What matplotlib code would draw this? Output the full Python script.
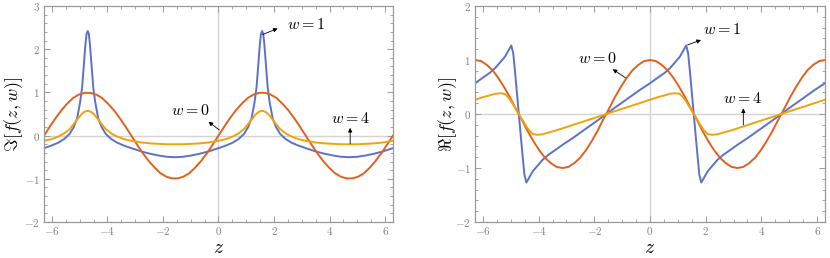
import matplotlib
matplotlib.use("Agg")
import matplotlib.pyplot as plt
from matplotlib.ticker import MultipleLocator, FuncFormatter

plt.rcParams['mathtext.fontset'] = 'cm'
plt.rcParams['font.family'] = 'DejaVu Serif'

# Значения z для кривых w=1 и w=4 (гуще около пиков)
z = [-6.28, -6.01, -5.76, -5.56, -5.36, -5.21, -5.09, -4.98, -4.91, -4.85, -4.79, -4.75,
     -4.71, -4.67, -4.63, -4.57, -4.51, -4.44, -4.33, -4.21, -4.06, -3.86, -3.66, -3.41,
     -3.14, -2.76, -2.46, -2.16, -1.86,
     -1.57, -1.28, -0.98, -0.68, -0.38, 0.0, 0.27, 0.52, 0.72, 0.92, 1.07, 1.19, 1.30,
     1.37, 1.43, 1.49, 1.53, 1.57, 1.61, 1.65, 1.71, 1.77, 1.84, 1.95, 2.07, 2.22, 2.42,
     2.62, 2.87, 3.14, 3.52, 3.82, 4.12, 4.42,
     4.71, 5.00, 5.30, 5.60, 5.90, 6.28]

# Значения z для кривой w=0 (равномерно)
z0 = [-6.28, -6.07, -5.86, -5.65, -5.45, -5.24, -5.03, -4.82, -4.61, -4.40, -4.19, -3.98,
      -3.77, -3.56, -3.35, -3.14, -2.93, -2.72, -2.51, -2.30, -2.09, -1.88, -1.68, -1.47,
      -1.26, -1.05, -0.84, -0.63, -0.42, -0.21, 0.0, 0.21, 0.42, 0.63, 0.84, 1.05, 1.26,
      1.47, 1.68, 1.88, 2.09, 2.30, 2.51, 2.72, 2.93, 3.14, 3.35, 3.56, 3.77, 3.98, 4.19,
      4.40, 4.61, 4.82, 5.03, 5.24, 5.45, 5.65, 5.86, 6.07, 6.28]

# Мнимая часть
im_w0 = [0.0, 0.21, 0.41, 0.59, 0.74, 0.87, 0.95, 0.99, 0.99, 0.95, 0.87, 0.74, 0.59, 0.41,
         0.21, 0.0, -0.21, -0.41, -0.59, -0.74, -0.87, -0.95, -0.99, -0.99, -0.95, -0.87,
         -0.74, -0.59, -0.41, -0.21, 0.0, 0.21, 0.41, 0.59, 0.74, 0.87, 0.95, 0.99, 0.99,
         0.95, 0.87, 0.74, 0.59, 0.41, 0.21, 0.0, -0.21, -0.41, -0.59, -0.74, -0.87, -0.95,
         -0.99, -0.99, -0.95, -0.87, -0.74, -0.59, -0.41, -0.21, 0.0]
im_w1 = [-0.29, -0.23, -0.16, -0.08, 0.04, 0.20, 0.40, 0.78, 1.12, 1.62, 2.12, 2.36, 2.42,
         2.36, 2.12, 1.62, 1.12, 0.78, 0.40, 0.20, 0.04, -0.08, -0.16, -0.23, -0.29, -0.37,
         -0.42, -0.46, -0.49,
         -0.50, -0.49, -0.46, -0.42, -0.37, -0.29, -0.23, -0.16, -0.08, 0.04, 0.20, 0.40, 0.78,
         1.12, 1.62, 2.12, 2.36, 2.42, 2.36, 2.12, 1.62, 1.12, 0.78, 0.40, 0.20, 0.04, -0.08,
         -0.16, -0.23, -0.29, -0.37, -0.42, -0.46, -0.49,
         -0.50, -0.49, -0.46, -0.42, -0.37, -0.29]
im_w4 = [-0.12, -0.08, -0.02, 0.05, 0.15, 0.27, 0.37, 0.46, 0.51, 0.54, 0.56, 0.57, 0.57,
         0.57, 0.56, 0.54, 0.51, 0.46, 0.37, 0.27, 0.15, 0.05, -0.02, -0.08, -0.12, -0.16,
         -0.18, -0.19, -0.20,
         -0.20, -0.20, -0.19, -0.18, -0.16, -0.12, -0.08, -0.02, 0.05, 0.15, 0.27, 0.37, 0.46,
         0.51, 0.54, 0.56, 0.57, 0.57, 0.57, 0.56, 0.54, 0.51, 0.46, 0.37, 0.27, 0.15, 0.05,
         -0.02, -0.08, -0.12, -0.16, -0.18, -0.19, -0.20,
         -0.20, -0.20, -0.19, -0.18, -0.16, -0.12]

# Действительная часть
re_w0 = [1.0, 0.98, 0.91, 0.81, 0.67, 0.5, 0.31, 0.10, -0.10, -0.31, -0.5, -0.67, -0.81,
         -0.91, -0.98, -1.0, -0.98, -0.91, -0.81, -0.67, -0.5, -0.31, -0.10, 0.10, 0.31, 0.5,
         0.67, 0.81, 0.91, 0.98, 1.0, 0.98, 0.91, 0.81, 0.67, 0.5, 0.31, 0.10, -0.10, -0.31,
         -0.5, -0.67, -0.81, -0.91, -0.98, -1.0, -0.98, -0.91, -0.81, -0.67, -0.5, -0.31,
         -0.10, 0.10, 0.31, 0.5, 0.67, 0.81, 0.91, 0.98, 1.0]
re_w1 = [0.57, 0.67, 0.76, 0.85, 0.97, 1.06, 1.17, 1.27, 1.12, 0.80, 0.46, 0.23, 0.0, -0.23,
         -0.46, -0.80, -1.12, -1.27, -1.17, -1.06, -0.97, -0.85, -0.76, -0.67, -0.57, -0.44,
         -0.33, -0.22, -0.11,
         0.0, 0.11, 0.22, 0.33, 0.44, 0.57, 0.67, 0.76, 0.85, 0.97, 1.06, 1.17, 1.27, 1.12,
         0.80, 0.46, 0.23, 0.0, -0.23, -0.46, -0.80, -1.12, -1.27, -1.17, -1.06, -0.97, -0.85,
         -0.76, -0.67, -0.57, -0.44, -0.33, -0.22, -0.11,
         0.0, 0.11, 0.22, 0.33, 0.44, 0.57]
re_w4 = [0.265, 0.31, 0.345, 0.375, 0.385, 0.37, 0.31, 0.23, 0.17, 0.12, 0.07, 0.035, 0.0,
         -0.035, -0.07, -0.12, -0.17, -0.23, -0.31, -0.37, -0.385, -0.375, -0.345, -0.31,
         -0.265, -0.20, -0.15, -0.10, -0.05,
         0.0, 0.05, 0.10, 0.15, 0.20, 0.265, 0.31, 0.345, 0.375, 0.385, 0.37, 0.31, 0.23, 0.17,
         0.12, 0.07, 0.035, 0.0, -0.035, -0.07, -0.12, -0.17, -0.23, -0.31, -0.37, -0.385,
         -0.375, -0.345, -0.31, -0.265, -0.20, -0.15, -0.10, -0.05,
         0.0, 0.05, 0.10, 0.15, 0.20, 0.265]

c_w0 = '#E2601F'
c_w1 = '#5D72C6'
c_w4 = '#F0A30A'

fig = plt.figure(figsize=(8.3, 2.58), dpi=100)
ax1 = fig.add_axes([0.053, 0.1395, 0.4205, 0.8372])
ax2 = fig.add_axes([0.5723, 0.1395, 0.4217, 0.8372])

fmt = FuncFormatter(lambda v, p: r'$%d$' % round(v))


def setup(ax, ylim, ylabel, ylab_x):
    ax.axhline(0, color='#d4d4d4', lw=1.0, zorder=0)
    ax.axvline(0, color='#d4d4d4', lw=1.0, zorder=0)
    ax.set_xlim(-6.2832, 6.2832)
    ax.set_ylim(*ylim)
    ax.xaxis.set_major_locator(MultipleLocator(2))
    ax.xaxis.set_minor_locator(MultipleLocator(0.5))
    ax.yaxis.set_major_locator(MultipleLocator(1))
    ax.yaxis.set_minor_locator(MultipleLocator(0.2))
    ax.xaxis.set_major_formatter(fmt)
    ax.yaxis.set_major_formatter(fmt)
    ax.tick_params(which='both', direction='in', top=True, right=True,
                   color='#999999', labelcolor='#808080', labelsize=8, pad=3)
    ax.tick_params(axis='x', which='both', pad=2)
    ax.tick_params(which='major', length=4, width=0.7)
    ax.tick_params(which='minor', length=2, width=0.6)
    for s in ax.spines.values():
        s.set_color('#999999')
        s.set_linewidth(0.9)
    # подпись оси z у нижнего края, ниже подписей делений
    ax.set_xlabel(r'$z$', fontsize=14, va='bottom')
    ax.xaxis.set_label_coords(0.5, -0.163)
    ax.set_ylabel(ylabel, fontsize=13, va='center')
    ax.yaxis.set_label_coords(ylab_x, 0.5)


arr = dict(arrowstyle='-|>', lw=0.6, color='k', mutation_scale=6, shrinkA=0, shrinkB=0)

# Левая панель: мнимая часть
setup(ax1, (-2, 3), r'$\Im[f(z,w)]$', -0.088)
ax1.plot(z, im_w1, color=c_w1, lw=1.4)
ax1.plot(z0, im_w0, color=c_w0, lw=1.4)
ax1.plot(z, im_w4, color=c_w4, lw=1.4)
ax1.annotate('', xy=(2.13, 2.48), xytext=(1.59, 2.34), arrowprops=arr)
ax1.text(3.15, 2.58, r'$w=1$', fontsize=11.5, ha='center', va='center')
ax1.annotate('', xy=(-0.36, 0.32), xytext=(0.03, 0.13), arrowprops=arr)
ax1.text(-1.0, 0.59, r'$w=0$', fontsize=11.5, ha='center', va='center')
ax1.annotate('', xy=(4.74, 0.18), xytext=(4.74, -0.19), arrowprops=arr)
ax1.text(4.74, 0.40, r'$w=4$', fontsize=11.5, ha='center', va='center')

# Правая панель: действительная часть
setup(ax2, (-2, 2), r'$\Re[f(z,w)]$', -0.077)
ax2.plot(z, re_w1, color=c_w1, lw=1.4)
ax2.plot(z0, re_w0, color=c_w0, lw=1.4)
ax2.plot(z, re_w4, color=c_w4, lw=1.4)
ax2.annotate('', xy=(1.83, 1.37), xytext=(1.35, 1.28), arrowprops=arr)
ax2.text(2.6, 1.57, r'$w=1$', fontsize=11.5, ha='center', va='center')
ax2.annotate('', xy=(-1.34, 0.83), xytext=(-0.88, 0.67), arrowprops=arr)
ax2.text(-1.88, 1.03, r'$w=0$', fontsize=11.5, ha='center', va='center')
ax2.annotate('', xy=(3.35, 0.105), xytext=(3.35, -0.20), arrowprops=arr)
ax2.text(3.32, 0.29, r'$w=4$', fontsize=11.5, ha='center', va='center')

fig.savefig('out.png', dpi=100)
